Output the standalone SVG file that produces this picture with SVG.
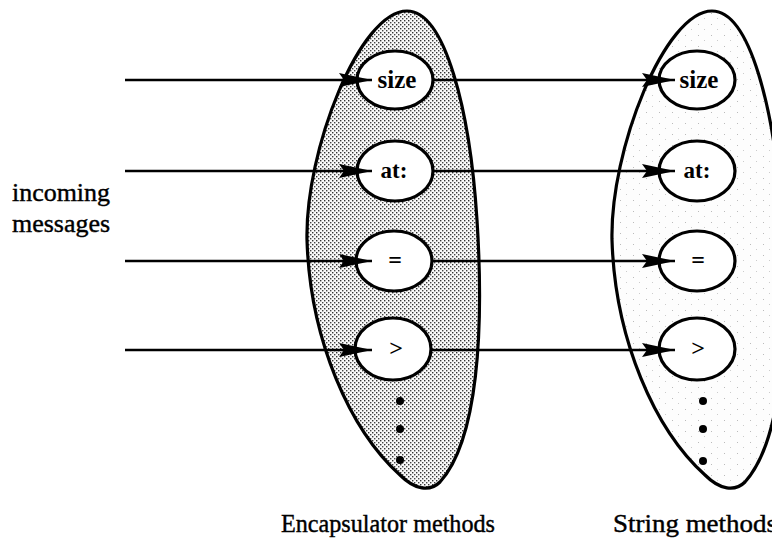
<svg xmlns="http://www.w3.org/2000/svg" width="772" height="540" viewBox="0 0 772 540">
<defs>
<pattern id="dots" width="4" height="4" patternUnits="userSpaceOnUse">
<rect width="4" height="4" fill="#fafafa"/>
<rect x="0" y="0" width="1.4" height="1.4" fill="#333"/>
<rect x="2" y="2" width="1.4" height="1.4" fill="#444"/>
</pattern>
<pattern id="speck" width="13" height="11" patternUnits="userSpaceOnUse">
<rect width="13" height="11" fill="#fdfdfd"/>
<rect x="3" y="2" width="1" height="1" fill="#bbb"/>
<rect x="9" y="7" width="1" height="1" fill="#ccc"/>
</pattern>
<marker id="ah" markerWidth="36" markerHeight="18" refX="33" refY="9" orient="auto" markerUnits="userSpaceOnUse">
<path d="M0,2 L33,9 L0,16 L5,9 Z" fill="#000"/>
</marker>
<style>
.blob{stroke:#000;stroke-width:3.2}
.node{fill:#fff;stroke:#000;stroke-width:3.2}
.lbl{font-family:"Liberation Serif",serif;font-size:25px;fill:#000;stroke:#000;stroke-width:0.4}
.nt{font-family:"Liberation Serif",serif;font-weight:bold;text-anchor:middle;fill:#000}
.conn{stroke:#000;stroke-width:2.6;fill:none}
</style>
</defs>
<rect width="772" height="540" fill="#fff"/>
<g id="encapsulator">
<path class="blob" fill="url(#dots)" d="M407,11 C445,11 470,110 477,220 C484,330 478,440 440,482 C430,492 415,490 400,475 C350,430 310,340 307,240 C305,150 360,11 407,11 Z"/>
</g>
<g id="string">
<path class="blob" fill="url(#speck)" transform="translate(305,0)" d="M407,11 C445,11 470,110 477,220 C484,330 478,440 440,482 C430,492 415,490 400,475 C350,430 310,340 307,240 C305,150 360,11 407,11 Z"/>
</g>
<g id="e-size"><ellipse class="node" cx="395" cy="80" rx="38" ry="29"/><text class="nt" x="397" y="88" font-size="25">size</text></g>
<g id="e-at"><ellipse class="node" cx="395" cy="171" rx="38" ry="30"/><text class="nt" x="394" y="178" font-size="23">at:</text></g>
<g id="e-eq"><ellipse class="node" cx="394" cy="261" rx="38" ry="30"/><text class="nt" x="395" y="268" font-size="24">=</text></g>
<g id="e-gt"><ellipse class="node" cx="393" cy="349" rx="38" ry="31"/><text class="nt" x="396" y="356" font-size="24">&gt;</text></g>
<g id="e-dots"><circle cx="400" cy="401" r="4"/><circle cx="400" cy="429" r="4"/><circle cx="400" cy="460" r="4"/></g>
<g id="s-size"><ellipse class="node" cx="697" cy="80" rx="38" ry="29"/><text class="nt" x="699" y="88" font-size="25">size</text></g>
<g id="s-at"><ellipse class="node" cx="697" cy="171" rx="38" ry="30"/><text class="nt" x="697" y="178" font-size="23">at:</text></g>
<g id="s-eq"><ellipse class="node" cx="697" cy="261" rx="38" ry="30"/><text class="nt" x="698" y="268" font-size="24">=</text></g>
<g id="s-gt"><ellipse class="node" cx="697" cy="349" rx="38" ry="31"/><text class="nt" x="698" y="356" font-size="24">&gt;</text></g>
<g id="s-dots"><circle cx="703" cy="401" r="4"/><circle cx="703" cy="429" r="4"/><circle cx="703" cy="461" r="4"/></g>
<g id="connectors">
<line class="conn" x1="125" y1="80" x2="372" y2="80" marker-end="url(#ah)"/>
<line class="conn" x1="125" y1="171" x2="372" y2="171" marker-end="url(#ah)"/>
<line class="conn" x1="125" y1="261" x2="372" y2="261" marker-end="url(#ah)"/>
<line class="conn" x1="125" y1="350" x2="372" y2="350" marker-end="url(#ah)"/>
<line class="conn" x1="433" y1="80" x2="675" y2="80" marker-end="url(#ah)"/>
<line class="conn" x1="433" y1="171" x2="675" y2="171" marker-end="url(#ah)"/>
<line class="conn" x1="432" y1="261" x2="675" y2="261" marker-end="url(#ah)"/>
<line class="conn" x1="431" y1="350" x2="675" y2="350" marker-end="url(#ah)"/>
</g>
<text class="lbl" x="12" y="201" textLength="98" lengthAdjust="spacingAndGlyphs">incoming</text>
<text class="lbl" x="12" y="232" textLength="98" lengthAdjust="spacingAndGlyphs">messages</text>
<text class="lbl" x="281" y="532" textLength="214" lengthAdjust="spacingAndGlyphs">Encapsulator methods</text>
<text class="lbl" x="613" y="532" textLength="164" lengthAdjust="spacingAndGlyphs">String methods</text>
</svg>
